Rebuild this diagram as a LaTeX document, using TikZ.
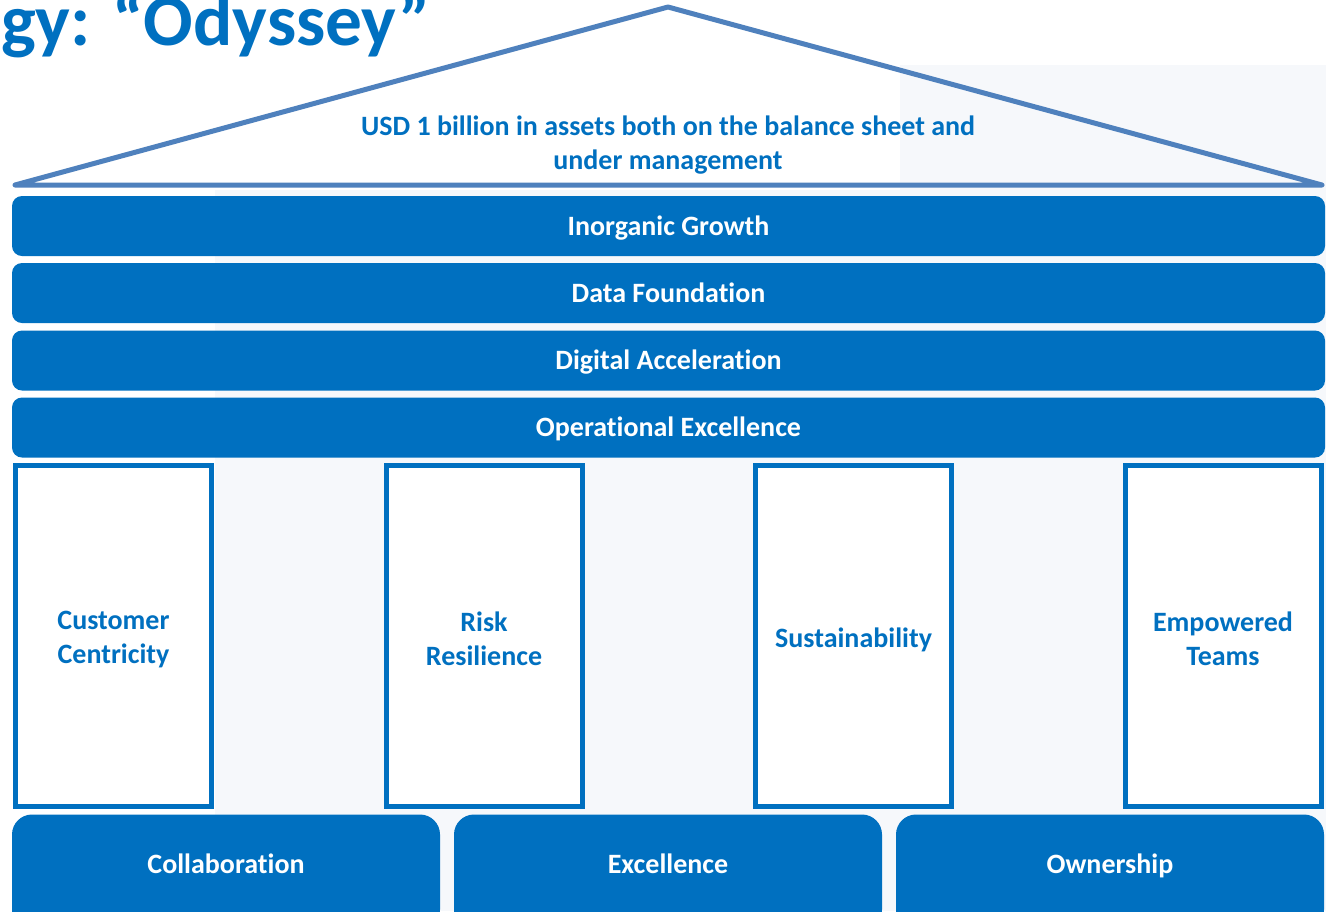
\documentclass[tikz,border=0pt]{standalone}
\usepackage{fontspec}
\setmainfont{Carlito}[Ligatures={NoCommon}]
\definecolor{mainblue}{HTML}{0070C0}
\definecolor{roofblue}{HTML}{4F81BD}
\definecolor{faint}{HTML}{F6F8FB}
\begin{document}
\begin{tikzpicture}[x=0.75pt,y=-0.75pt,
  bar/.style={fill=mainblue,draw=none,rounded corners=7.5pt,minimum width=984.75pt,minimum height=45pt,inner sep=0pt},
  bartext/.style={text=white,font=\bfseries\fontsize{21}{25.5}\selectfont,inner sep=0pt,anchor=base},
  pillar/.style={draw=mainblue,fill=white,line width=3.75pt,minimum width=147pt,minimum height=255.75pt,inner sep=0pt},
  pillartext/.style={text=mainblue,font=\bfseries\fontsize{21}{25.5}\selectfont,align=center,inner sep=0pt},
  basebox/.style={fill=mainblue,draw=none,rounded corners=15pt,minimum width=321pt,minimum height=86.25pt,inner sep=0pt},
  roof/.style={draw=roofblue,line width=3.75pt,line join=round,line cap=round}]
\useasboundingbox (0,0) rectangle (1326,911);
\clip (0,0) rectangle (1326,911);
\fill[white] (0,0) rectangle (1326,911);
\fill[faint] (900,65) rectangle (1326,911);
\fill[faint] (215,190) rectangle (1326,911);
% title
\node[anchor=base east,inner sep=0pt,text=mainblue,font=\bfseries\fontsize{55}{64}\selectfont] (title) at (431,45) {Strategy: “Odyssey”};
% roof
\coordinate (apex) at (668,7);
\coordinate (rl) at (15,185);
\coordinate (rr) at (1322,185);
\draw[roof] (rl) -- (apex) -- (rr) -- cycle;
\node[text=mainblue,font=\bfseries\fontsize{21}{25.5}\selectfont,align=center,inner sep=0pt] (roofText) at (668,145)
  {USD 1 billion in assets both on the balance sheet and\\under management};
% bars
\node[bar] (b1) at (668.5,226) {};
\node[bartext] (t1) at (668.5,235) {Inorganic Growth};
\node[bar] (b2) at (668.5,293) {};
\node[bartext] (t2) at (668.5,302) {Data Foundation};
\node[bar] (b3) at (668.5,360.5) {};
\node[bartext] (t3) at (668.5,369.5) {Digital Acceleration};
\node[bar] (b4) at (668.5,427.5) {};
\node[bartext] (t4) at (668.5,436.5) {Operational Excellence};
% pillars
\node[pillar] (p1) at (113.5,636) {};
\node[pillartext] (pt1) at (113.5,640) {Customer\\Centricity};
\node[pillar] (p2) at (484,636) {};
\node[pillartext] (pt2) at (484,639) {Risk\\Resilience};
\node[pillar] (p3) at (853.5,636) {};
\node[pillartext] (pt3) at (853.5,640) {Sustainability};
\node[pillar] (p4) at (1223,636) {};
\node[pillartext] (pt4) at (1223,639) {Empowered\\Teams};
% base
\node[basebox] (c1) at (226,872) {};
\node[bartext] (ct1) at (226,873) {Collaboration};
\node[basebox] (c2) at (668,872) {};
\node[bartext] (ct2) at (668,873) {Excellence};
\node[basebox] (c3) at (1110,872) {};
\node[bartext] (ct3) at (1110,873) {Ownership};
\end{tikzpicture}
\end{document}
